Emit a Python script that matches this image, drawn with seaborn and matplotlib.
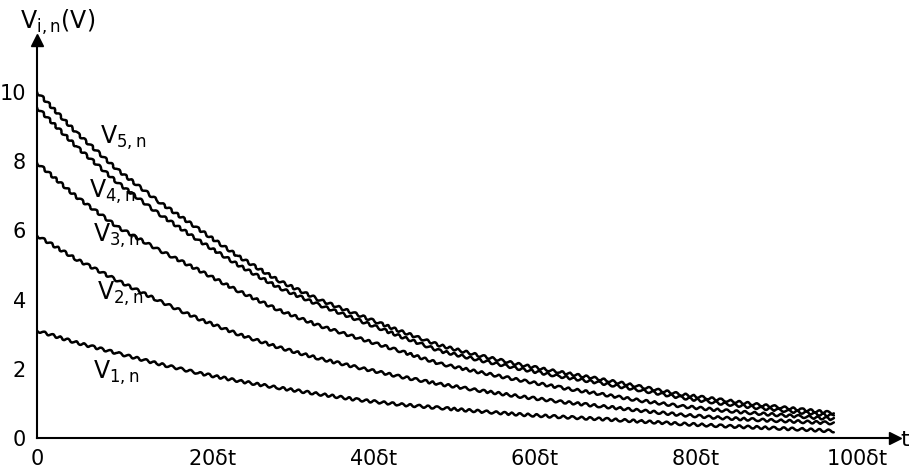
import matplotlib
matplotlib.use("Agg")
import matplotlib.pyplot as plt
import matplotlib.transforms as mtransforms
import numpy as np
import pandas as pd
import seaborn as sns

# ---- data (t in units of delta t, voltage in V) ----
t_steps = [0, 5, 10, 15, 20, 25, 30, 35, 40, 45, 50, 55, 60, 65, 70, 75, 80, 85, 90, 95, 99]
v5 = [10.0, 8.8, 7.75, 6.85, 6.05, 5.25, 4.55, 4.0, 3.55, 3.1, 2.68, 2.38, 2.12, 1.9, 1.7, 1.48, 1.26, 1.1, 0.95, 0.82, 0.72]
v4 = [9.55, 8.4, 7.38, 6.5, 5.72, 5.0, 4.35, 3.85, 3.4, 2.95, 2.52, 2.25, 2.0, 1.78, 1.59, 1.38, 1.17, 1.0, 0.86, 0.74, 0.64]
v3 = [7.95, 6.95, 6.1, 5.45, 4.86, 4.25, 3.7, 3.25, 2.88, 2.52, 2.15, 1.9, 1.67, 1.46, 1.27, 1.08, 0.92, 0.8, 0.7, 0.62, 0.55]
v2 = [5.85, 5.15, 4.55, 3.98, 3.45, 3.0, 2.62, 2.3, 2.03, 1.78, 1.56, 1.37, 1.2, 1.05, 0.92, 0.79, 0.67, 0.58, 0.52, 0.47, 0.43]
v1 = [3.1, 2.75, 2.45, 2.15, 1.88, 1.65, 1.45, 1.27, 1.1, 0.97, 0.87, 0.77, 0.68, 0.61, 0.55, 0.48, 0.41, 0.35, 0.3, 0.25, 0.2]
series_names = ["V5", "V4", "V3", "V2", "V1"]
series_labels = [r"$\mathregular{V_{5,n}}$", r"$\mathregular{V_{4,n}}$", r"$\mathregular{V_{3,n}}$",
                 r"$\mathregular{V_{2,n}}$", r"$\mathregular{V_{1,n}}$"]
label_x = [7.8, 6.4, 7.0, 7.45, 7.0]
label_y = [8.67, 7.1, 5.85, 4.15, 1.88]
xtick_vals = [0, 20, 40, 60, 80, 100]
xtick_labels = ["0", r"20$\mathregular{\delta}$t", r"40$\mathregular{\delta}$t", r"60$\mathregular{\delta}$t",
                r"80$\mathregular{\delta}$t", r"100$\mathregular{\delta}$t"]
ytick_vals = [0, 2, 4, 6, 8, 10]
ytick_labels = ["0", "2", "4", "6", "8", "10"]

df = pd.DataFrame({
    "t": t_steps * 5,
    "v": v5 + v4 + v3 + v2 + v1,
    "series": sum([[n] * len(t_steps) for n in series_names], []),
})

sns.set_style("white")
plt.rcParams["font.family"] = ["DejaVu Sans"]
plt.rcParams["mathtext.fontset"] = "dejavusans"
plt.rcParams["text.color"] = "black"

fig = plt.figure(figsize=(9.09, 4.70), dpi=100)
ax = fig.add_axes([37 / 909, 32 / 470, 858 / 909, 398 / 470])

sns.lineplot(data=df, x="t", y="v", hue="series", palette=["black"] * 5,
             legend=False, ax=ax, linewidth=1.8)
for line in ax.get_lines():
    line.set_sketch_params(scale=1.3, length=9, randomness=1.5)

ax.set_xlim(0, 106.6)
ax.set_ylim(0, 11.5)
ax.set_xlabel("")
ax.set_ylabel("")

for s in ["top", "right"]:
    ax.spines[s].set_visible(False)
for s in ["left", "bottom"]:
    ax.spines[s].set_color("black")
    ax.spines[s].set_linewidth(1.5)

# arrow heads on axes
ax.plot(1, 0, ">", transform=ax.transAxes, color="black", markersize=8, clip_on=False)
ax.plot(0, 1, "^", transform=ax.transAxes, color="black", markersize=8, clip_on=False)

ax.set_xticks(xtick_vals)
ax.set_xticklabels(xtick_labels)
ax.set_yticks(ytick_vals)
ax.set_yticklabels(ytick_labels)
ax.tick_params(axis="x", direction="in", length=9, width=1.2, pad=8, labelsize=15, colors="black")
ax.tick_params(axis="y", direction="in", length=11, width=1.2, pad=8, labelsize=15, colors="black")
offset = mtransforms.ScaledTranslation(15 / 100, 0, fig.dpi_scale_trans)
for i, lab in enumerate(ax.get_xticklabels()):
    if i > 0:
        lab.set_transform(lab.get_transform() + offset)

for lbl, lx, ly in zip(series_labels, label_x, label_y):
    ax.text(lx, ly, lbl, fontsize=17, ha="left", va="center", color="black")

fig.text(20 / 909, 1 - 22 / 470, r"$\mathregular{V_{i,n}}$(V)", fontsize=17, ha="left", va="center", color="black")
fig.text(905 / 909, 1 - 440 / 470, "t", fontsize=16, ha="center", va="center", color="black")

fig.savefig("out.png", dpi=100)
